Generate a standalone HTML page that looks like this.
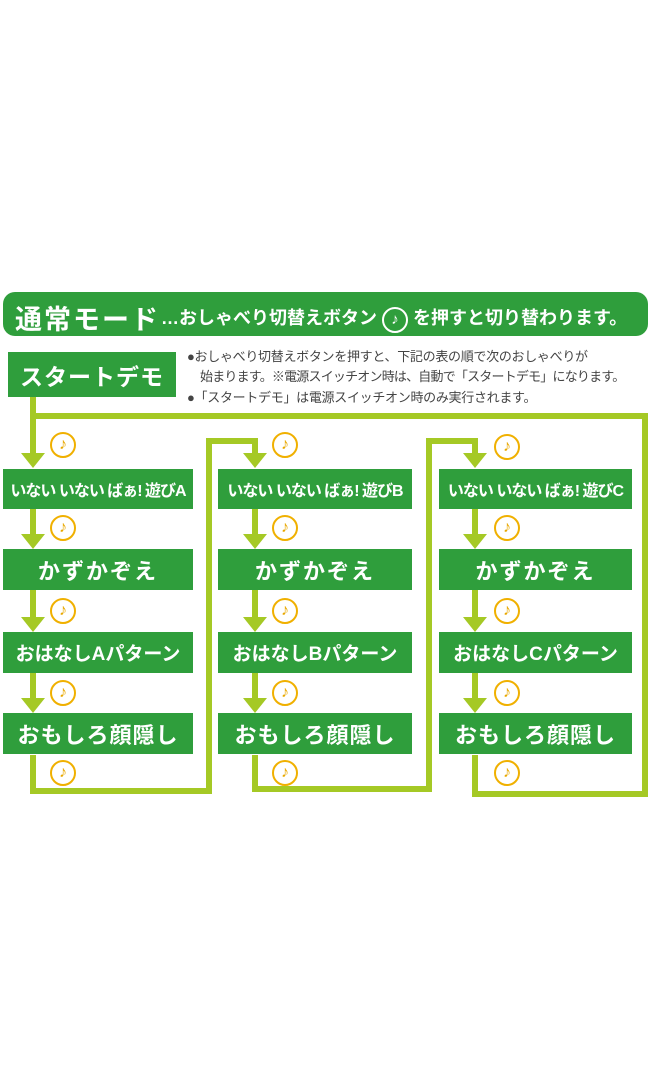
<!DOCTYPE html>
<html><head><meta charset="utf-8"><style>
html,body{margin:0;padding:0;background:#fff;}
body{width:651px;height:1080px;position:relative;overflow:hidden;font-family:"Liberation Sans","Noto Sans CJK JP",sans-serif;}
.abs{position:absolute;}
.hdr{left:3px;top:292px;width:645px;height:44px;background:#2f9e3c;border-radius:12px;color:#fff;font-weight:bold;white-space:nowrap;}
.box{position:absolute;background:#2f9e3c;color:#fff;font-weight:bold;display:flex;align-items:center;justify-content:center;white-space:nowrap;}
.b1{font-size:16px;letter-spacing:-1px}
.b2{font-size:22px;letter-spacing:2px}
.b3{font-size:19px}
.b4{font-size:22px;letter-spacing:1px}
.note{position:absolute;width:22px;height:22px;border:2px solid #f0b000;border-radius:50%;background:#fff;color:#e8a800;font-size:16px;line-height:22px;text-align:center;font-weight:bold;}
.txt{font-size:13px;color:#444;white-space:nowrap;letter-spacing:-0.3px}
</style></head><body>
<svg class="abs" style="left:0;top:0" width="651" height="1080">
<g fill="none" stroke="#a5c925" stroke-width="6">
<polyline points="33,397 33,416 645,416 645,794 475,794 475,755"/>
<line x1="33" y1="416" x2="33" y2="455"/>
<polyline points="33,755 33,791 209,791 209,441 255,441 255,455"/>
<polyline points="255,755 255,789 429,789 429,441 475,441 475,455"/>
</g>
<g stroke="#a5c925" stroke-width="6">
<line x1="33" y1="509" x2="33" y2="536"/><line x1="33" y1="590" x2="33" y2="619"/><line x1="33" y1="673" x2="33" y2="700"/>
<line x1="255" y1="509" x2="255" y2="536"/><line x1="255" y1="590" x2="255" y2="619"/><line x1="255" y1="673" x2="255" y2="700"/>
<line x1="475" y1="509" x2="475" y2="536"/><line x1="475" y1="590" x2="475" y2="619"/><line x1="475" y1="673" x2="475" y2="700"/>
</g>
<g fill="#a5c925">
<polygon points="21,453 45,453 33,468"/><polygon points="21,534 45,534 33,549"/><polygon points="21,617 45,617 33,632"/><polygon points="21,698 45,698 33,713"/>
<polygon points="243,453 267,453 255,468"/><polygon points="243,534 267,534 255,549"/><polygon points="243,617 267,617 255,632"/><polygon points="243,698 267,698 255,713"/>
<polygon points="463,453 487,453 475,468"/><polygon points="463,534 487,534 475,549"/><polygon points="463,617 487,617 475,632"/><polygon points="463,698 487,698 475,713"/>
</g>
</svg>
<div class="abs hdr"><span style="position:absolute;left:12px;top:6px;font-size:27px;letter-spacing:2px">通常モード</span><span style="position:absolute;left:158px;top:12px;font-size:18px">…おしゃべり切替えボタン <span style="display:inline-block;width:22px;height:22px;border:2px solid #fff;border-radius:50%;text-align:center;line-height:22px;font-size:15px">♪</span> を押すと切り替わります。</span></div>
<div class="box" style="left:8px;top:352px;width:168px;height:45px;font-size:23px;letter-spacing:1px">スタートデモ</div>
<div class="abs txt" style="left:187px;top:346px">●おしゃべり切替えボタンを押すと、下記の表の順で次のおしゃべりが</div>
<div class="abs txt" style="left:200px;top:366px;letter-spacing:-0.8px">始まります。※電源スイッチオン時は、自動で「スタートデモ」になります。</div>
<div class="abs txt" style="left:187px;top:387px">●「スタートデモ」は電源スイッチオン時のみ実行されます。</div>

<div class="box b1" style="left:3px;top:469px;width:190px;height:40px">いない いない ばぁ! 遊びA</div>
<div class="box b2" style="left:3px;top:549px;width:190px;height:41px">かずかぞえ</div>
<div class="box b3" style="left:3px;top:632px;width:190px;height:41px">おはなしAパターン</div>
<div class="box b4" style="left:3px;top:713px;width:190px;height:41px">おもしろ顔隠し</div>

<div class="box b1" style="left:218px;top:469px;width:194px;height:40px">いない いない ばぁ! 遊びB</div>
<div class="box b2" style="left:218px;top:549px;width:194px;height:41px">かずかぞえ</div>
<div class="box b3" style="left:218px;top:632px;width:194px;height:41px">おはなしBパターン</div>
<div class="box b4" style="left:218px;top:713px;width:194px;height:41px">おもしろ顔隠し</div>

<div class="box b1" style="left:439px;top:469px;width:193px;height:40px">いない いない ばぁ! 遊びC</div>
<div class="box b2" style="left:439px;top:549px;width:193px;height:41px">かずかぞえ</div>
<div class="box b3" style="left:439px;top:632px;width:193px;height:41px">おはなしCパターン</div>
<div class="box b4" style="left:439px;top:713px;width:193px;height:41px">おもしろ顔隠し</div>

<div class="note" style="left:50px;top:432px">♪</div>
<div class="note" style="left:50px;top:515px">♪</div>
<div class="note" style="left:50px;top:598px">♪</div>
<div class="note" style="left:50px;top:680px">♪</div>
<div class="note" style="left:50px;top:760px">♪</div>
<div class="note" style="left:272px;top:432px">♪</div>
<div class="note" style="left:272px;top:515px">♪</div>
<div class="note" style="left:272px;top:598px">♪</div>
<div class="note" style="left:272px;top:680px">♪</div>
<div class="note" style="left:272px;top:760px">♪</div>
<div class="note" style="left:494px;top:434px">♪</div>
<div class="note" style="left:494px;top:515px">♪</div>
<div class="note" style="left:494px;top:598px">♪</div>
<div class="note" style="left:494px;top:680px">♪</div>
<div class="note" style="left:494px;top:760px">♪</div>
</body></html>
